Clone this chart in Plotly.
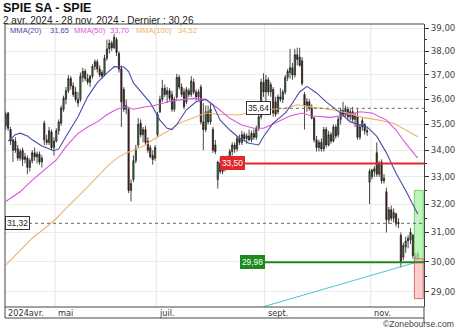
import numpy as np
import pandas as pd
import plotly.graph_objects as go

# ---------------- data ----------------
days = pd.bdate_range("2024-04-02", "2024-11-28")
days = days[days != pd.Timestamp("2024-05-01")]
dates = [d.strftime("%Y-%m-%d") for d in days]

opens = [34.95, 35.45, 34.8, 34.0, 34.35, 34.05, 33.7, 34.0, 33.65, 33.7,
         33.35, 33.6, 33.9, 33.75, 33.85, 33.55, 35.05, 34.4, 34.3, 34.7,
         34.1, 34.35, 34.75, 35.05, 35.6, 36.0, 36.35, 36.85, 36.55, 36.3,
         36.0, 36.0, 36.9, 37.15, 36.85, 36.7, 36.95, 37.35, 37.55, 37.25,
         37.1, 37.0, 37.7, 38.1, 38.35, 38.15, 38.5, 37.9, 37.25, 36.4,
         35.6, 35.6, 32.5, 32.9, 33.6, 34.2, 35.05, 34.6, 34.8, 34.35,
         34.1, 33.8, 33.7, 34.6, 35.5, 36.0, 36.45, 36.2, 36.35, 36.2,
         35.6, 36.1, 36.9, 36.5, 36.3, 35.9, 36.35, 36.2, 36.7, 36.3,
         36.1, 36.5, 35.1, 34.8, 35.5, 35.1, 34.8, 34.2, 32.9, 33.5,
         33.2, 33.4, 33.3, 33.7, 33.95, 34.2, 34.05, 34.45, 34.3, 34.6,
         34.45, 34.55, 34.4, 34.65, 34.5, 34.85, 35.3, 36.7, 36.3, 36.8,
         36.3, 36.4, 35.9, 35.5, 36.1, 36.0, 36.3, 36.9, 37.1, 37.3,
         37.0, 37.85, 37.75, 37.6, 36.2, 35.75, 35.9, 35.65, 35.25, 34.4,
         34.1, 34.3, 34.05, 34.8, 34.2, 34.6, 34.35, 34.9, 34.6, 35.2,
         35.55, 35.4, 35.6, 35.3, 35.5, 35.2, 35.3, 34.5, 34.9, 35.0,
         34.75, 32.8, 33.0, 33.2, 33.9, 33.1, 33.55, 32.85, 32.45, 31.45,
         31.8, 31.5, 31.65, 31.3, 30.9, 30.15, 30.5, 30.7, 30.75, 30.9,
         30.2, 30.1]
highs = [35.5, 35.5, 34.9, 34.45, 34.5, 34.2, 34.05, 34.1, 33.9, 33.8,
         33.7, 34.0, 34.1, 33.95, 33.95, 33.8, 35.15, 34.6, 34.9, 34.8,
         34.5, 34.85, 35.2, 35.75, 36.15, 36.5, 37.0, 36.95, 36.7, 36.5,
         36.3, 37.1, 37.3, 37.25, 37.05, 37.0, 37.45, 37.65, 37.65, 37.4,
         37.2, 37.85, 38.5, 38.5, 38.45, 38.75, 38.6, 38.0, 37.4, 36.5,
         36.0, 35.7, 32.9, 33.8, 34.2, 35.25, 35.2, 34.9, 34.95, 34.5,
         34.2, 34.0, 34.2, 35.5, 36.15, 36.8, 36.6, 36.5, 36.45, 36.35,
         36.1, 37.05, 37.0, 36.65, 36.45, 36.5, 36.45, 36.95, 36.85, 36.4,
         36.4, 36.6, 35.85, 35.75, 35.75, 35.85, 34.9, 34.4, 33.6, 33.7,
         33.5, 33.6, 33.8, 34.05, 34.3, 34.3, 34.55, 34.6, 34.75, 34.7,
         34.65, 34.8, 34.75, 34.8, 34.95, 35.4, 36.85, 37.07, 37.0, 36.9,
         36.7, 36.5, 36.1, 36.2, 36.45, 36.4, 37.0, 37.25, 38.1, 37.5,
         38.1, 38.15, 38.15, 37.75, 36.3, 36.05, 36.0, 35.8, 35.3, 34.55,
         34.4, 34.45, 34.9, 34.9, 34.75, 34.7, 35.0, 35.0, 35.3, 35.65,
         35.9, 35.75, 35.7, 35.6, 35.7, 35.45, 35.6, 35.0, 35.25, 35.05,
         34.9, 33.3, 33.3, 33.4, 34.3, 33.6, 33.65, 33.1, 32.6, 31.9,
         31.95, 31.85, 31.7, 31.5, 31.0, 30.65, 30.85, 30.9, 31.15, 30.95,
         30.3, 30.35]
lows = [34.8, 34.75, 34.2, 33.55, 33.9, 33.6, 33.6, 33.4, 33.5, 33.1,
        33.2, 33.5, 33.6, 33.5, 33.45, 33.35, 34.2, 34.2, 34.2, 34.0,
        33.8, 34.3, 34.6, 34.95, 35.5, 35.8, 36.25, 36.4, 36.1, 35.9,
        35.7, 35.9, 36.7, 36.75, 36.6, 36.5, 36.85, 37.2, 37.1, 36.9,
        36.85, 36.95, 37.6, 37.9, 38.0, 38.1, 37.8, 37.1, 34.9, 35.5,
        35.4, 32.4, 32.1, 32.8, 33.5, 34.1, 34.5, 34.3, 34.2, 33.9,
        33.7, 33.45, 33.6, 34.5, 35.45, 35.9, 36.1, 35.85, 35.95, 35.5,
        35.5, 36.0, 36.4, 36.1, 35.6, 35.8, 36.1, 36.1, 36.2, 35.95,
        35.95, 35.0, 34.0, 34.7, 35.0, 35.0, 33.9, 33.85, 32.57, 33.1,
        33.1, 33.2, 33.25, 33.6, 33.8, 33.9, 33.95, 34.2, 34.2, 34.35,
        34.25, 34.35, 34.3, 34.4, 34.4, 34.75, 35.2, 36.1, 35.85, 36.15,
        36.1, 35.3, 35.3, 35.4, 35.9, 35.85, 36.2, 36.75, 36.85, 36.8,
        36.9, 37.4, 37.35, 36.55, 34.8, 35.5, 35.55, 35.2, 34.3, 33.95,
        33.95, 33.95, 33.95, 34.1, 34.15, 34.25, 34.3, 34.45, 34.5, 35.0,
        35.3, 35.3, 35.15, 35.15, 35.1, 34.9, 34.4, 34.4, 34.75, 34.6,
        34.55, 32.0, 32.9, 33.0, 33.0, 33.0, 32.75, 32.75, 31.0, 31.3,
        31.4, 31.35, 31.2, 31.15, 29.8, 30.05, 30.3, 30.45, 30.6, 30.1,
        29.98, 30.0]
closes = [35.4, 34.85, 34.35, 34.4, 34.0, 33.7, 33.95, 33.65, 33.75, 33.35,
          33.6, 33.9, 33.75, 33.85, 33.55, 33.7, 34.4, 34.3, 34.75, 34.1,
          34.35, 34.75, 35.1, 35.65, 36.05, 36.35, 36.85, 36.55, 36.2, 36.0,
          35.85, 36.95, 37.15, 36.85, 36.7, 36.95, 37.35, 37.55, 37.25, 37.0,
          36.95, 37.7, 38.1, 38.35, 38.15, 38.6, 37.95, 37.25, 35.9, 35.6,
          35.75, 32.5, 32.75, 33.6, 34.05, 35.0, 34.6, 34.8, 34.3, 34.0,
          33.75, 33.65, 34.1, 35.4, 36.0, 36.45, 36.2, 36.35, 36.05, 35.6,
          36.0, 36.9, 36.5, 36.2, 35.7, 36.4, 36.2, 36.75, 36.3, 36.1,
          36.3, 35.1, 34.8, 35.5, 35.1, 35.6, 34.0, 33.95, 33.55, 33.2,
          33.4, 33.3, 33.7, 33.95, 34.2, 34.05, 34.45, 34.3, 34.6, 34.45,
          34.55, 34.4, 34.65, 34.5, 34.85, 35.3, 36.7, 36.3, 36.8, 36.3,
          36.6, 35.45, 35.4, 36.1, 36.0, 36.3, 36.9, 37.15, 37.3, 37.0,
          37.85, 37.65, 37.4, 36.65, 35.75, 35.9, 35.65, 35.25, 34.4, 34.1,
          34.3, 34.05, 34.8, 34.2, 34.6, 34.35, 34.9, 34.55, 35.2, 35.55,
          35.4, 35.6, 35.3, 35.5, 35.2, 35.35, 34.5, 34.9, 35.15, 34.75,
          34.7, 33.2, 33.25, 33.3, 33.1, 33.5, 32.85, 32.95, 31.45, 31.8,
          31.5, 31.7, 31.3, 31.35, 30.0, 30.55, 30.7, 30.8, 31.0, 30.2,
          30.1, 30.26]

mma20_idx = [1, 4, 6, 9, 11, 15, 20, 22, 25, 30, 34, 38, 42, 45, 49, 51, 53, 56, 58,
             60, 64, 67, 69, 71, 75, 79, 83, 86, 89, 93, 97, 101, 105, 107, 111, 116,
             118, 122, 125, 129, 133, 139, 143, 147, 150, 154, 158, 162, 166, 171]
mma20_val = [34.35, 34.6, 34.66, 34.55, 34.4, 34.16, 33.98, 34.05, 34.53, 35.3, 36.1,
             36.68, 37.08, 37.35, 37.33, 37.14, 36.67, 36.32, 36.1, 35.86, 35.17, 34.85,
             34.8, 35.0, 35.58, 35.9, 36.0, 35.78, 35.17, 34.78, 34.46, 34.27, 34.2,
             34.53, 35.05, 35.45, 35.7, 36.3, 36.53, 36.26, 35.9, 35.45, 35.1, 34.98,
             34.9, 34.53, 33.9, 33.13, 32.5, 31.65]
mma50_idx = [0, 6, 11, 17, 21, 25, 30, 34, 38, 42, 46, 50, 53, 58, 61, 69, 78, 83, 88,
             93, 98, 103, 107, 111, 116, 118, 123, 127, 135, 142, 147, 152, 158, 162,
             166, 171]
mma50_val = [32.1, 32.45, 32.88, 33.33, 33.63, 34.14, 34.65, 34.9, 35.1, 35.38, 35.6,
             35.7, 35.6, 35.7, 35.73, 35.94, 36.04, 36.0, 35.64, 35.24, 34.98, 34.85,
             34.85, 35.02, 35.25, 35.33, 35.45, 35.33, 35.28, 35.38, 35.5, 35.45, 35.17,
             34.78, 34.26, 33.7]
mma100_idx = [0, 6, 11, 17, 21, 25, 30, 34, 38, 42, 46, 50, 54, 58, 61, 67, 72, 78, 83,
              90, 97, 104, 111, 116, 121, 127, 135, 142, 148, 155, 161, 166, 171]
mma100_val = [29.88, 30.39, 30.8, 31.2, 31.49, 31.85, 32.27, 32.63, 33.0, 33.38, 33.69,
              33.9, 34.03, 34.2, 34.4, 34.72, 35.05, 35.28, 35.45, 35.38, 35.38, 35.5,
              35.6, 35.64, 35.78, 35.69, 35.58, 35.45, 35.28, 35.17, 35.05, 34.78, 34.52]

trend_idx = [107, 170]
trend_val = [28.52, 29.97]

level_values = [35.64, 33.50, 31.32, 29.98]
level_labels = ["35,64", "33,50", "31,32", "29,98"]

target_zone = [30.0, 32.5]
stop_zone = [28.78, 30.10]

month_starts = ["2024-04-02", "2024-05-02", "2024-07-01", "2024-09-02", "2024-11-01"]
month_labels = ["2024avr.", "mai", "juil.", "sept.", "nov."]

ytick_vals = [29, 30, 31, 32, 33, 34, 35, 36, 37, 38, 39]
ytick_text = [f"{v:.2f}".replace(".", ",") for v in ytick_vals]
yminor_vals = [v + 0.5 for v in ytick_vals[:-1]]

legend_items = [("MMA(20)", "31,65", "#4b4ba6"),
                ("MMA(50)", "33,70", "#d957d9"),
                ("MMA(100)", "34,52", "#f0b36b")]

# ---------------- layout geometry (px) ----------------
W, H = 460, 331
ML, MR, MT, MB = 5, 36, 24, 24
PH = H - MT - MB
XR = [-0.3, 173.6]
YR = [np.log10(28.51), np.log10(39.18)]


def py(px):  # pixel row -> paper y
    return (H - MB - px) / PH


xs = list(range(len(dates)))
pos = {d: i for i, d in enumerate(dates)}

fig = go.Figure()

# zones (boxes at right)
zx0, zx1 = 169.6, 173.3
fig.add_trace(go.Scatter(x=[zx0, zx1, zx1, zx0, zx0],
                         y=[target_zone[0], target_zone[0], target_zone[1], target_zone[1], target_zone[0]],
                         mode="lines", fill="toself", fillcolor="rgba(170,240,170,0.75)",
                         line=dict(color="#6fd36f", width=1), hoverinfo="skip", showlegend=False))
fig.add_trace(go.Scatter(x=[zx0, zx1, zx1, zx0, zx0],
                         y=[stop_zone[0], stop_zone[0], stop_zone[1], stop_zone[1], stop_zone[0]],
                         mode="lines", fill="toself", fillcolor="rgba(248,190,190,0.75)",
                         line=dict(color="#e36a6a", width=1), hoverinfo="skip", showlegend=False))

# candles
fig.add_trace(go.Candlestick(
    x=xs, open=opens, high=highs, low=lows, close=closes, text=dates,
    increasing=dict(fillcolor="#449944", line=dict(color="#1c1c1c", width=0.8)),
    decreasing=dict(fillcolor="#7c1515", line=dict(color="#1c1c1c", width=0.8)),
    whiskerwidth=0, showlegend=False))

# moving averages
fig.add_trace(go.Scatter(x=mma100_idx, y=mma100_val, mode="lines",
                         line=dict(color="#f0b36b", width=1.1), showlegend=False))
fig.add_trace(go.Scatter(x=mma50_idx, y=mma50_val, mode="lines",
                         line=dict(color="#d957d9", width=1.1), showlegend=False))
fig.add_trace(go.Scatter(x=mma20_idx, y=mma20_val, mode="lines",
                         line=dict(color="#4b4ba6", width=1.1), showlegend=False))

# trend line
fig.add_trace(go.Scatter(x=trend_idx, y=trend_val, mode="lines",
                         line=dict(color="#4cc3d4", width=1), showlegend=False))

# horizontal levels
lvl_start = [100.5, 88.9, XR[0], 97.2]
lvl_style = [dict(color="#666666", width=1, dash="dot"),
             dict(color="#e3262b", width=2),
             dict(color="#666666", width=1, dash="dot"),
             dict(color="#1e8a1e", width=2)]
for v, s, st in zip(level_values, lvl_start, lvl_style):
    fig.add_trace(go.Scatter(x=[s, XR[1]], y=[v, v], mode="lines", line=st,
                             hoverinfo="skip", showlegend=False))

shapes = []
# vertical month gridlines
for d in month_starts[1:]:
    xg = pos[d] - 0.5
    shapes.append(dict(type="line", xref="x", yref="paper", x0=xg, x1=xg, y0=0, y1=1,
                       line=dict(color="#e4e4e4", width=1), layer="below"))
# frame
fc = "#444444"
yb = py(318)
shapes += [
    dict(type="line", xref="paper", yref="paper", x0=0, x1=1, y0=1, y1=1, line=dict(color=fc, width=1)),
    dict(type="line", xref="paper", yref="paper", x0=0, x1=0, y0=yb, y1=1, line=dict(color=fc, width=1)),
    dict(type="line", xref="paper", yref="paper", x0=0, x1=1, y0=0, y1=0, line=dict(color=fc, width=1)),
    dict(type="line", xref="paper", yref="paper", x0=0, x1=1, y0=yb, y1=yb, line=dict(color=fc, width=1)),
    dict(type="line", xref="paper", yref="paper", x0=1, x1=1, y0=py(323), y1=0, line=dict(color=fc, width=1)),
]

ann = []
# title and subtitle
ann.append(dict(text="<b>SPIE SA - SPIE</b>", xref="paper", yref="paper", x=0, y=1,
                xanchor="left", yanchor="middle", xshift=-3, yshift=16.5, showarrow=False,
                borderpad=0,
                font=dict(family="Liberation Sans Narrow, Liberation Sans", size=12.5, color="#111")))
ann.append(dict(text="2 avr. 2024 - 28 nov. 2024 - Dernier : 30,26", xref="paper", yref="paper",
                x=0, y=1, xanchor="left", yanchor="middle", xshift=-3, yshift=3.5, showarrow=False,
                borderpad=0,
                font=dict(family="Liberation Sans Narrow, Liberation Sans", size=10, color="#222")))
# legend
lx = [9, 49, 73, 109, 135, 177]
k = 0
for name, val, col in legend_items:
    for t in (name, val):
        ann.append(dict(text=t, xref="paper", yref="paper", x=0, y=1, xanchor="left",
                        yanchor="middle", xshift=lx[k] - ML - 1, yshift=-6.5, showarrow=False,
                        font=dict(family="Liberation Sans", size=7.6, color=col)))
        k += 1
# month labels in the strip
for d, lab in zip(month_starts, month_labels):
    xg = max(pos[d] - 0.5, XR[0])
    ann.append(dict(text=lab, xref="x", yref="paper", x=xg, y=py(312.5), xanchor="left",
                    yanchor="middle", xshift=1, showarrow=False,
                    font=dict(family="DejaVu Sans", size=8.2, color="#333")))
# level labels
lab_x = [110.1, 88.9, XR[0], 97.2]
lab_anchor = ["right", "left", "left", "left"]
lab_bg = ["white", "#e3262b", "white", "#1e8a1e"]
lab_bd = ["#333", "#e3262b", "#333", "#1e8a1e"]
lab_fc = ["#222", "white", "#222", "white"]
for v, t, x_, a_, bg, bd, fcol in zip(level_values, level_labels, lab_x, lab_anchor, lab_bg, lab_bd, lab_fc):
    ann.append(dict(text=t, xref="x", yref="y", x=x_, y=np.log10(v), xanchor=a_, yanchor="middle",
                    showarrow=False, bgcolor=bg, bordercolor=bd, borderwidth=1, borderpad=1,
                    font=dict(family="Liberation Sans", size=8.3, color=fcol)))
# watermark
ann.append(dict(text="©Zonebourse.com", xref="paper", yref="paper", x=1, y=py(323.5),
                xanchor="right", yanchor="middle", xshift=32, showarrow=False,
                font=dict(family="Liberation Sans", size=8.6, color="#444")))

fig.update_layout(
    width=W, height=H, margin=dict(l=ML, r=MR, t=MT, b=MB),
    paper_bgcolor="white", plot_bgcolor="white", showlegend=False,
    shapes=shapes, annotations=ann,
    xaxis=dict(range=XR, showgrid=False, showticklabels=False, zeroline=False,
               showline=False, ticks="", rangeslider=dict(visible=False), fixedrange=True),
    yaxis=dict(type="log", range=YR, side="right", tickmode="array", tickvals=ytick_vals,
               ticktext=ytick_text, ticks="outside", ticklen=4, tickcolor="#333",
               showline=True, linecolor="#444", linewidth=1, gridcolor="#ececec",
               zeroline=False, tickfont=dict(family="DejaVu Sans", size=8.6, color="#444"),
               minor=dict(tickmode="array", tickvals=yminor_vals, ticks="outside",
                          ticklen=2, tickcolor="#333", showgrid=False)),
)

fig.write_html("out.html")
